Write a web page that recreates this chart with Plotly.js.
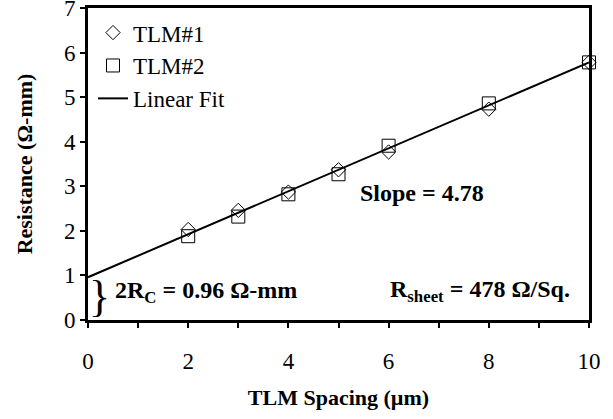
<!DOCTYPE html>
<html>
<head>
<meta charset="utf-8">
<script src="https://cdn.plot.ly/plotly-3.0.1.min.js"></script>
<style>html,body{margin:0;padding:0;background:#fff;}#chart{width:613px;height:419px;}</style>
</head>
<body>
<div id="chart"></div>
<script>
const spacing = [2, 3, 4, 5, 6, 8, 10];
const tlm1 = [2.03, 2.46, 2.87, 3.37, 3.77, 4.73, 5.78];
const tlm2 = [1.88, 2.32, 2.82, 3.27, 3.91, 4.86, 5.78];
const fitX = [0, 10];
const fitY = [0.96, 5.78];
const xTicks = [0, 2, 4, 6, 8, 10];
const yTicks = [0, 1, 2, 3, 4, 5, 6, 7];

const FONT = 'Liberation Serif';

const traces = [
  {x: spacing, y: tlm1, name: 'TLM#1', mode: 'markers', type: 'scatter', cliponaxis: false,
   marker: {symbol: 'diamond-open', size: 11, color: '#000', line: {width: 1, color: '#000'}}},
  {x: spacing, y: tlm2, name: 'TLM#2', mode: 'markers', type: 'scatter', cliponaxis: false,
   marker: {symbol: 'square-open', size: 13, color: '#000', line: {width: 1, color: '#000'}}},
  {x: fitX, y: fitY, name: 'Linear Fit', mode: 'lines', type: 'scatter', cliponaxis: false,
   line: {color: '#000', width: 2}}
];

const layout = {
  width: 613, height: 419,
  margin: {l: 88, r: 24, t: 8, b: 99},
  paper_bgcolor: '#fff', plot_bgcolor: '#fff',
  font: {family: FONT, size: 22, color: '#000'},
  showlegend: true,
  legend: {x: 0.01, y: 0.99, xanchor: 'left', yanchor: 'top', bgcolor: 'rgba(0,0,0,0)',
           font: {family: FONT, size: 23, color: '#000'}, tracegroupgap: 0},
  xaxis: {
    range: [0, 10], tickvals: xTicks, ticktext: xTicks.map(String),
    ticks: 'outside', ticklen: 5, tickwidth: 2, tickcolor: '#000',
    minor: {dtick: 1, ticks: 'outside', ticklen: 5, tickwidth: 2, tickcolor: '#000'},
    showgrid: false, zeroline: false,
    showline: true, linecolor: '#000', linewidth: 3, mirror: true,
    ticklabelstandoff: 13, ticklabeloverflow: 'allow',
    tickfont: {family: FONT, size: 23, color: '#000'},
    title: {text: '<b>TLM Spacing (µm)</b>', font: {family: FONT, size: 22, color: '#000'}, standoff: 18}
  },
  yaxis: {
    range: [0, 7], tickvals: yTicks,
    ticks: 'outside', ticklen: 5, tickwidth: 2, tickcolor: '#000',
    showgrid: false, zeroline: false, ticklabeloverflow: 'allow',
    showline: true, linecolor: '#000', linewidth: 3, mirror: true,
    tickfont: {family: FONT, size: 23, color: '#000'},
    title: {text: '<b>Resistance (Ω-mm)</b>', font: {family: FONT, size: 22, color: '#000'}, standoff: 26}
  },
  annotations: [
    {x: 5.39, y: 2.86, xref: 'x', yref: 'y', xanchor: 'left', yanchor: 'middle', showarrow: false,
     text: '<b>Slope = 4.78</b>', font: {family: FONT, size: 24, color: '#000'}},
    {x: 5.99, y: 0.66, xref: 'x', yref: 'y', xanchor: 'left', yanchor: 'middle', showarrow: false,
     text: '<b>R<sub>sheet</sub> = 478 Ω/Sq.</b>', font: {family: FONT, size: 24, color: '#000'}},
    {x: 0.5, y: 0.63, xref: 'x', yref: 'y', xanchor: 'left', yanchor: 'middle', showarrow: false,
     text: '<b>2R<sub>C</sub> = 0.96 Ω-mm</b>', font: {family: FONT, size: 24, color: '#000'}},
    {x: 0.22, y: 0.52, xref: 'x', yref: 'y', xanchor: 'center', yanchor: 'middle', showarrow: false,
     text: '}', font: {family: FONT, size: 44, color: '#000'}}
  ]
};

Plotly.newPlot('chart', traces, layout, {displayModeBar: false, staticPlot: true});
</script>
</body>
</html>
